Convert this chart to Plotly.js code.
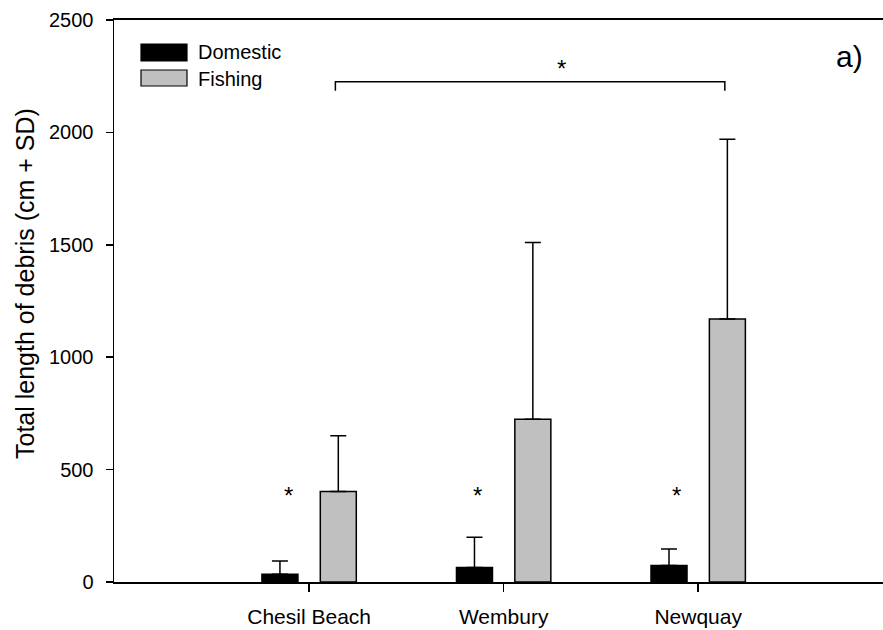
<!DOCTYPE html>
<html>
<head>
<meta charset="utf-8">
<script src="https://cdn.plot.ly/plotly-3.0.1.min.js"></script>
<style>html,body{margin:0;padding:0;background:#fff;}#chart{width:883px;height:630px;}</style>
</head>
<body>
<div id="chart"></div>
<script>
// ---- data ----
const sites = ["Chesil Beach", "Wembury", "Newquay"];
const domesticMean = [35, 65, 73];
const domesticSD = [58, 134, 74];
const fishingMean = [403, 724, 1170];
const fishingSD = [248, 786, 800];
const seriesNames = ["Domestic", "Fishing"];
const yTicks = [0, 500, 1000, 1500, 2000, 2500];
const panelLabel = "a)";
const yTitle = "Total length of debris (cm + SD)";

const FONT = "Liberation Sans, Arial, Helvetica, sans-serif";

const errStyle = {type: "data", visible: true, color: "#000", thickness: 1.5, width: 8};

const traces = [
  {
    type: "bar", name: seriesNames[0], x: sites, y: domesticMean,
    marker: {color: "#000000", line: {color: "#000", width: 1.5}},
    error_y: Object.assign({array: domesticSD, symmetric: false, arrayminus: domesticSD.map(() => 0)}, errStyle),
    showlegend: false, hoverinfo: "none"
  },
  {
    type: "bar", name: seriesNames[1], x: sites, y: fishingMean,
    marker: {color: "#c0c0c0", line: {color: "#000", width: 1.5}},
    error_y: Object.assign({array: fishingSD, symmetric: false, arrayminus: fishingSD.map(() => 0)}, errStyle),
    showlegend: false, hoverinfo: "none"
  }
];

// plot-area helpers (paper coords)
const L = 114, T = 20, W = 769, H = 562;
const px = v => (v - L) / W;
const py = v => (T + H - v) / H;

const shapes = [
  // legend boxes
  {type: "rect", xref: "paper", yref: "paper", x0: px(141), x1: px(187), y0: py(61), y1: py(44),
   fillcolor: "#000", line: {color: "#000", width: 1.2}},
  {type: "rect", xref: "paper", yref: "paper", x0: px(141), x1: px(187), y0: py(86), y1: py(70),
   fillcolor: "#c0c0c0", line: {color: "#000", width: 1.2}},
  // significance bracket between fishing bars
  {type: "path", xref: "x", yref: "y",
   path: "M 0.135,2185 L 0.135,2225 L 2.137,2225 L 2.137,2185",
   line: {color: "#000", width: 1.5}}
];

const starFont = {family: FONT, size: 24, color: "#000"};
const annotations = [
  {xref: "paper", yref: "paper", x: px(196), y: py(52), text: seriesNames[0], showarrow: false,
   xanchor: "left", yanchor: "middle", font: {family: FONT, size: 20, color: "#000"}},
  {xref: "paper", yref: "paper", x: px(196), y: py(79), text: seriesNames[1], showarrow: false,
   xanchor: "left", yanchor: "middle", font: {family: FONT, size: 20, color: "#000"}},
  {xref: "paper", yref: "paper", x: px(849), y: py(56), text: panelLabel, showarrow: false,
   xanchor: "center", yanchor: "middle", font: {family: FONT, size: 30, color: "#000"}},
  {xref: "paper", yref: "paper", x: px(25), y: py(284), text: yTitle, showarrow: false,
   textangle: -90, xanchor: "center", yanchor: "middle", font: {family: FONT, size: 25, color: "#000"}},
  {xref: "x", yref: "y", x: 1.296, y: 2283, text: "*", showarrow: false,
   xanchor: "center", yanchor: "middle", font: starFont},
  {xref: "x", yref: "y", x: -0.108, y: 384, text: "*", showarrow: false,
   xanchor: "center", yanchor: "middle", font: starFont},
  {xref: "x", yref: "y", x: 0.866, y: 384, text: "*", showarrow: false,
   xanchor: "center", yanchor: "middle", font: starFont},
  {xref: "x", yref: "y", x: 1.887, y: 384, text: "*", showarrow: false,
   xanchor: "center", yanchor: "middle", font: starFont}
];

const layout = {
  width: 883, height: 630,
  margin: {l: L, r: 0, t: T, b: 630 - T - H},
  paper_bgcolor: "#fff", plot_bgcolor: "#fff",
  barmode: "group", bargap: 0.4, bargroupgap: 0.383,
  showlegend: false,
  font: {family: FONT, color: "#000"},
  xaxis: {
    type: "category", range: [-1.003, 2.95], fixedrange: true,
    showline: true, linecolor: "#000", linewidth: 2, mirror: true,
    ticks: "outside", ticklen: 8, tickwidth: 1.5, tickcolor: "#000",
    showgrid: false, zeroline: false,
    tickfont: {family: FONT, size: 21, color: "#000"},
    ticklabelstandoff: 7
  },
  yaxis: {
    range: [0, 2500], tickvals: yTicks, ticktext: yTicks.map(String), fixedrange: true,
    showline: true, linecolor: "#000", linewidth: 1.5,
    ticks: "outside", ticklen: 7, tickwidth: 1.5, tickcolor: "#000",
    showgrid: false, zeroline: false,
    tickfont: {family: FONT, size: 20, color: "#000"},
    ticklabelstandoff: 8
  },
  shapes: shapes,
  annotations: annotations
};

Plotly.newPlot("chart", traces, layout, {displayModeBar: false, staticPlot: true});
</script>
</body>
</html>
